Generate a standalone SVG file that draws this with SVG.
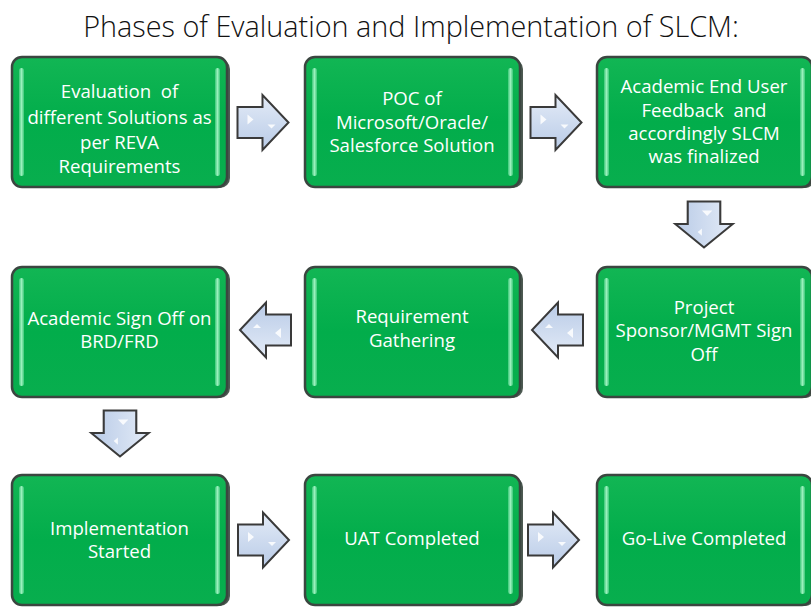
<svg xmlns="http://www.w3.org/2000/svg" width="811" height="607" viewBox="0 0 811 607">
<style>
.title{font-family:"Open Sans","Noto Sans",sans-serif;font-size:28.8px;font-weight:300;fill:#111;text-anchor:middle}
.lbl{font-family:"Open Sans","Noto Sans",sans-serif;font-size:18.6px;fill:#fff;text-anchor:middle;white-space:pre}
.box{fill:url(#gBox);stroke:#3b4640;stroke-width:2.5}
.shadow{fill:#4d5a52}
.hl{fill:url(#gHl)}
.arr{fill:url(#gArr);stroke:#3a3a3a;stroke-width:2;stroke-linejoin:miter}
.spark{fill:#ffffff;opacity:0.85}
</style>
<defs>
<linearGradient id="gBox" x1="0" y1="0" x2="0" y2="1">
<stop offset="0" stop-color="#12b654"/>
<stop offset="0.5" stop-color="#02ad4b"/>
<stop offset="1" stop-color="#08ae4e"/>
</linearGradient>
<linearGradient id="gHl" x1="0" y1="0" x2="1" y2="0">
<stop offset="0" stop-color="#3cc878"/>
<stop offset="0.5" stop-color="#9af0bd"/>
<stop offset="1" stop-color="#3cc878"/>
</linearGradient>
<linearGradient id="gArr" x1="0" y1="0" x2="0" y2="1">
<stop offset="0" stop-color="#e3ebf7"/>
<stop offset="1" stop-color="#b9cbe7"/>
</linearGradient>
<g id="arrow">
<polygon class="arr" points="-25,-15.5 0,-15.5 0,-27.5 26,0 0,27.5 0,15.5 -25,15.5"/>
<polygon class="spark" points="-15,-8 -9,-3 -15,2"/>
<polygon class="spark" points="5,2 13,2 9,6"/>
</g>
<g id="card">
<rect class="shadow" x="3" y="2" width="215" height="129" rx="10"/>
<rect class="box" x="0" y="0" width="215" height="130" rx="10"/>
<rect class="hl" x="7" y="11" width="5" height="108" rx="2.5"/>
<rect class="hl" x="203" y="11" width="5" height="108" rx="2.5"/>
</g>
</defs>
<rect width="811" height="607" fill="#fff"/>
<text class="title" x="411" y="37">Phases of Evaluation and Implementation of SLCM:</text>

<g id="connectors">
<use href="#arrow" transform="translate(262.5,122.5)"/>
<use href="#arrow" transform="translate(555.5,122.5)"/>
<use href="#arrow" transform="translate(704,224) rotate(90) scale(0.9,1.05)"/>
<use href="#arrow" transform="translate(558,330) rotate(180)"/>
<use href="#arrow" transform="translate(266,330) rotate(180)"/>
<use href="#arrow" transform="translate(120,433) rotate(90) scale(0.9,1.05)"/>
<use href="#arrow" transform="translate(263,540)"/>
<use href="#arrow" transform="translate(553,540)"/>
</g>

<g id="n1">
<use href="#card" x="12" y="57"/>
<text class="lbl"><tspan x="119.5" y="98">Evaluation  of</tspan><tspan x="119.5" y="124">different Solutions as</tspan><tspan x="119.5" y="149">per REVA</tspan><tspan x="119.5" y="173">Requirements</tspan></text>
</g>
<g id="n2">
<use href="#card" x="305" y="57"/>
<text class="lbl"><tspan x="412" y="105">POC of</tspan><tspan x="412" y="129">Microsoft/Oracle/</tspan><tspan x="412" y="152">Salesforce Solution</tspan></text>
</g>
<g id="n3">
<use href="#card" x="597" y="57"/>
<text class="lbl"><tspan x="704" y="93">Academic End User</tspan><tspan x="704" y="117">Feedback  and</tspan><tspan x="704" y="140">accordingly SLCM</tspan><tspan x="704" y="163">was finalized</tspan></text>
</g>
<g id="n4">
<use href="#card" x="597" y="267"/>
<text class="lbl"><tspan x="704" y="314">Project</tspan><tspan x="704" y="337">Sponsor/MGMT Sign</tspan><tspan x="704" y="361">Off</tspan></text>
</g>
<g id="n5">
<use href="#card" x="305" y="267"/>
<text class="lbl"><tspan x="412" y="323">Requirement</tspan><tspan x="412" y="347">Gathering</tspan></text>
</g>
<g id="n6">
<use href="#card" x="12" y="267"/>
<text class="lbl"><tspan x="119.5" y="325">Academic Sign Off on</tspan><tspan x="119.5" y="348">BRD/FRD</tspan></text>
</g>
<g id="n7">
<use href="#card" x="12" y="475"/>
<text class="lbl"><tspan x="119.5" y="535">Implementation</tspan><tspan x="119.5" y="558">Started</tspan></text>
</g>
<g id="n8">
<use href="#card" x="305" y="475"/>
<text class="lbl" x="412" y="545">UAT Completed</text>
</g>
<g id="n9">
<use href="#card" x="597" y="475"/>
<text class="lbl" x="704" y="545">Go-Live Completed</text>
</g>
</svg>
